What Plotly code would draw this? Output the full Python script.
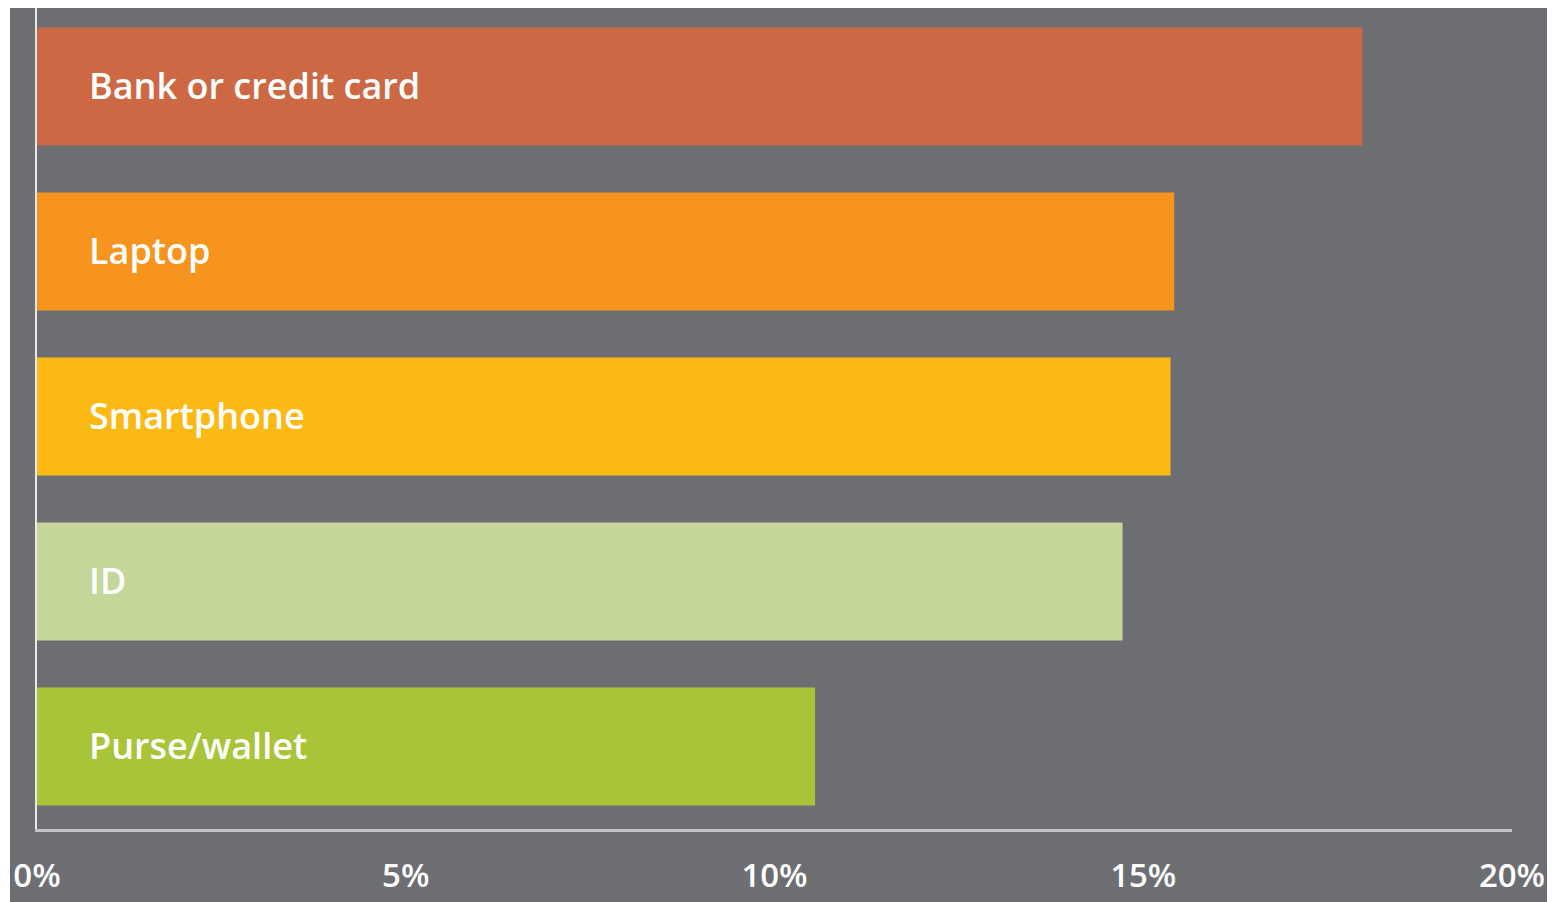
import plotly.graph_objects as go

categories = ["Bank or credit card", "Laptop", "Smartphone", "ID", "Purse/wallet"]
values = [17.97, 15.42, 15.37, 14.72, 10.55]
colors = ["#cc6944", "#f7941e", "#fdb913", "#c4d699", "#a8c539"]
tick_vals = [0, 5, 10, 15, 20]
tick_text = ["0%", "5%", "10%", "15%", "20%"]

# page has an 8px body margin; figure coordinates = page coordinates - 8
W, H = 1547, 894
ml, mr, mt, mb = 29, 43, 0, 73
pw = W - ml - mr
ph = H - mt - mb

fig = go.Figure()
fig.add_trace(go.Bar(
    y=categories, x=values, orientation="h",
    marker=dict(color=colors, line=dict(width=0)),
    width=0.716, hoverinfo="skip", showlegend=False,
))

for c in categories:
    fig.add_annotation(x=0, y=c, xref="x", yref="y", text=c, showarrow=False,
                       xanchor="left", yanchor="middle", xshift=50, yshift=1,
                       font=dict(family="Open Sans", size=36, color="white", weight=600))

bg = "#6d6e72"
fig.add_shape(type="rect", xref="paper", yref="paper",
              x0=(2 - ml) / pw, x1=(1540 - ml) / pw,
              y0=-0.2, y1=1.01,
              fillcolor=bg, line=dict(width=0), layer="below")

fig.update_layout(
    width=W, height=H,
    margin=dict(l=ml, r=mr, t=mt, b=mb, pad=0, autoexpand=False),
    paper_bgcolor="white", plot_bgcolor=bg,
    xaxis=dict(range=[0, 20], tickvals=tick_vals, ticktext=tick_text,
               showgrid=False, zeroline=False, showline=True, automargin=False,
               linecolor="#c4c4c6", linewidth=2.5, ticks="",
               ticklabelstandoff=16,
               tickfont=dict(family="Open Sans", size=33, color="white", weight=600)),
    yaxis=dict(categoryorder="array", categoryarray=categories,
               range=[4.5, 4.5 - ph / 165.0], autorange=False, automargin=False,
               showticklabels=False, showgrid=False,
               zeroline=False, showline=True, linecolor="#e8e8e8", linewidth=1.5,
               ticks=""),
)

fig.write_html("out.html")
